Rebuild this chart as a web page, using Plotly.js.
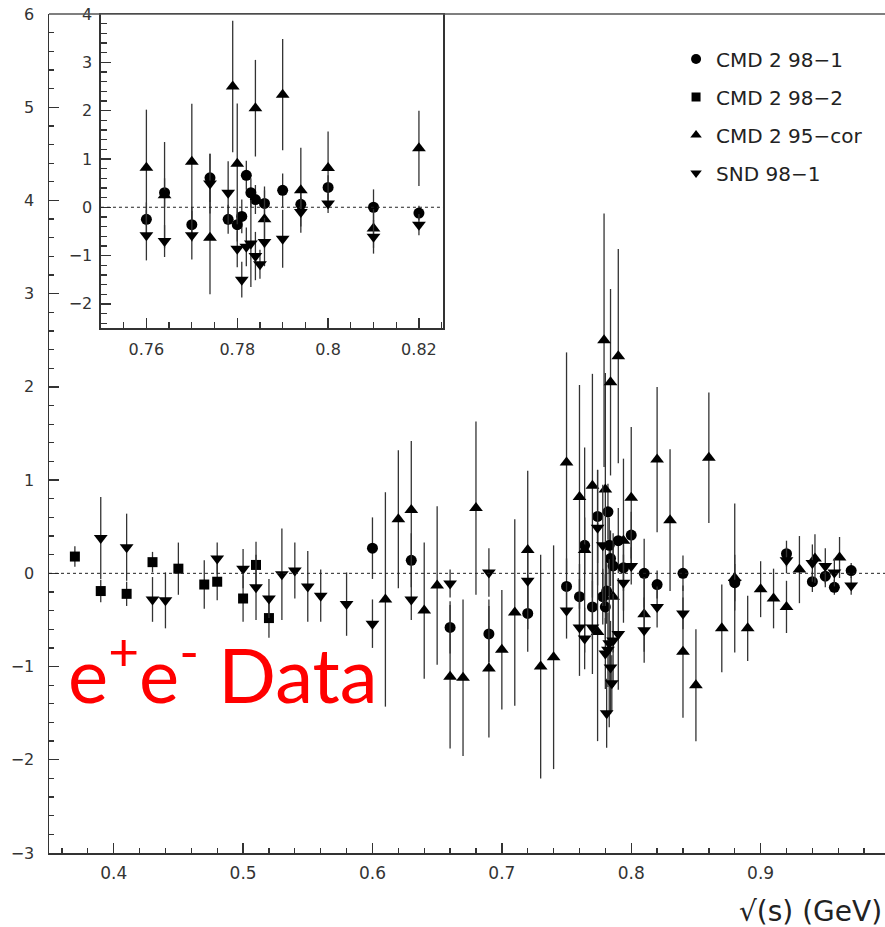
<!DOCTYPE html>
<html><head><meta charset="utf-8">
<script src="https://cdn.plot.ly/plotly-3.0.1.min.js"></script>
<style>html,body{margin:0;padding:0;overflow:hidden;background:#fff}#chart{width:890px;height:927px}</style>
</head><body><div id="chart"></div>
<script>
// ---- data ----
const seriesNames = ['CMD 2 98\u22121', 'CMD 2 98\u22122', 'CMD 2 95\u2212cor', 'SND 98\u22121'];

const cmd981_x = [0.60, 0.63, 0.66, 0.69, 0.72, 0.75, 0.76, 0.764, 0.77, 0.774, 0.778, 0.78, 0.781, 0.782, 0.783, 0.784, 0.786, 0.79, 0.794, 0.80, 0.81, 0.82, 0.84, 0.88, 0.92, 0.94, 0.95, 0.957, 0.97];
const cmd981_y = [0.27, 0.14, -0.58, -0.65, -0.43, -0.14, -0.25, 0.30, -0.36, 0.61, -0.25, -0.36, -0.19, 0.66, 0.30, 0.16, 0.08, 0.35, 0.06, 0.41, 0.00, -0.12, 0.00, -0.10, 0.21, -0.09, -0.03, -0.15, 0.03];
const cmd981_e = [0.33, 0.29, 0.28, 0.30, 0.41, 0.30, 0.35, 0.30, 0.35, 0.50, 0.30, 0.35, 0.35, 0.30, 0.30, 0.30, 0.35, 0.35, 0.25, 0.25, 0.37, 0.15, 0.19, 0.20, 0.14, 0.11, 0.12, 0.08, 0.08];

const cmd982_x = [0.37, 0.39, 0.41, 0.43, 0.45, 0.47, 0.48, 0.50, 0.51, 0.52];
const cmd982_y = [0.18, -0.19, -0.22, 0.12, 0.05, -0.12, -0.09, -0.27, 0.09, -0.48];
const cmd982_e = [0.11, 0.12, 0.13, 0.11, 0.28, 0.26, 0.20, 0.25, 0.25, 0.21];

const cmd95_x = [0.61, 0.62, 0.63, 0.64, 0.65, 0.66, 0.67, 0.68, 0.69, 0.70, 0.71, 0.72, 0.73, 0.74, 0.75, 0.76, 0.764, 0.77, 0.774, 0.779, 0.78, 0.784, 0.786, 0.79, 0.794, 0.80, 0.81, 0.82, 0.83, 0.84, 0.85, 0.86, 0.87, 0.88, 0.89, 0.90, 0.91, 0.92, 0.93, 0.942, 0.961];
const cmd95_y = [-0.28, 0.58, 0.68, -0.40, -0.13, -1.11, -1.12, 0.70, -1.02, -0.82, -0.42, 0.25, -1.00, -0.90, 1.19, 0.82, 0.25, 0.94, -0.63, 2.50, 0.90, 2.05, -0.25, 2.33, 0.35, 0.81, -0.44, 1.22, 0.57, -0.84, -1.20, 1.24, -0.59, -0.05, -0.59, -0.17, -0.27, -0.36, 0.04, 0.16, 0.17];
const cmd95_e = [1.15, 0.74, 0.74, 0.73, 0.85, 0.77, 0.84, 0.93, 0.74, 0.64, 1.00, 0.85, 1.20, 1.20, 1.18, 1.20, 1.10, 1.20, 1.17, 1.36, 1.25, 1.00, 0.60, 1.15, 0.88, 0.76, 0.40, 0.78, 0.76, 0.71, 0.60, 0.70, 0.47, 0.80, 0.35, 0.30, 0.32, 0.28, 0.36, 0.26, 0.22];

const snd_x = [0.39, 0.41, 0.43, 0.44, 0.48, 0.50, 0.51, 0.52, 0.53, 0.54, 0.55, 0.56, 0.58, 0.60, 0.63, 0.66, 0.69, 0.72, 0.75, 0.76, 0.764, 0.77, 0.774, 0.778, 0.78, 0.781, 0.782, 0.783, 0.784, 0.785, 0.786, 0.79, 0.794, 0.80, 0.81, 0.82, 0.84, 0.88, 0.92, 0.94, 0.95, 0.957, 0.97];
const snd_y = [0.38, 0.28, -0.28, -0.29, 0.16, 0.05, -0.15, -0.27, -0.01, 0.03, -0.14, -0.24, -0.33, -0.54, -0.28, -0.11, 0.01, -0.08, -0.40, -0.58, -0.70, -0.58, 0.49, 0.30, -0.86, -1.50, -0.82, -0.75, -1.01, -1.18, -0.72, -0.65, -0.10, 0.08, -0.61, -0.36, -0.43, -0.10, 0.14, 0.11, 0.08, 0.01, -0.13];
const snd_e = [0.44, 0.36, 0.24, 0.30, 0.17, 0.21, 0.35, 0.21, 0.49, 0.30, 0.38, 0.28, 0.34, 0.26, 0.22, 0.15, 0.26, 0.30, 0.30, 0.52, 0.33, 0.50, 0.62, 0.65, 0.38, 0.37, 0.40, 0.90, 0.50, 0.30, 0.50, 0.60, 0.30, 0.20, 0.35, 0.22, 0.17, 0.30, 0.14, 0.20, 0.19, 0.15, 0.10];

const xTitle = '\u221A(s) (GeV)';
const bigLabel = 'e<sup>+</sup>e<sup>-</sup> Data';

// ---- styling ----
const symbols = ['circle', 'square', 'triangle-up', 'triangle-down'];
const sizes = [11, 10, 12, 12];
const legSizes = [10, 9, 10, 10];
const sets = [
  [cmd981_x, cmd981_y, cmd981_e],
  [cmd982_x, cmd982_y, cmd982_e],
  [cmd95_x, cmd95_y, cmd95_e],
  [snd_x, snd_y, snd_e]
];
const INSET_X = [0.75, 0.8253];

function insetFilter(xs, ys, es) {
  const o = {x: [], y: [], e: []};
  xs.forEach((v, i) => {
    if (v > INSET_X[0] + 0.002 && v < INSET_X[1]) { o.x.push(v); o.y.push(ys[i]); o.e.push(es[i]); }
  });
  return o;
}

const traces = [];
sets.forEach((s, k) => {
  traces.push({
    type: 'scatter', mode: 'markers', x: s[0], y: s[1], xaxis: 'x', yaxis: 'y',
    name: seriesNames[k], showlegend: false,
    marker: {symbol: symbols[k], size: sizes[k], color: '#000', line: {width: 0}},
    error_y: {type: 'data', array: s[2], visible: true, color: '#333', thickness: 1.3, width: 0}
  });
});
sets.forEach((s, k) => {
  const f = insetFilter(s[0], s[1], s[2]);
  traces.push({
    type: 'scatter', mode: 'markers', x: f.x, y: f.y, xaxis: 'x2', yaxis: 'y2',
    name: seriesNames[k], showlegend: false,
    marker: {symbol: symbols[k], size: sizes[k], color: '#000', line: {width: 0}},
    error_y: {type: 'data', array: f.e, visible: true, color: '#333', thickness: 1.3, width: 0}
  });
});
// legend entries
sets.forEach((s, k) => {
  traces.push({
    type: 'scatter', mode: 'markers', x: [null], y: [null], xaxis: 'x', yaxis: 'y',
    name: seriesNames[k], showlegend: true, legendgroup: 'g' + k,
    marker: {symbol: symbols[k], size: legSizes[k], color: '#000', line: {width: 0}}
  });
});

const tickFont = {family: 'DejaVu Sans', size: 16, color: '#333'};
const axCommon = {
  showline: true, linecolor: '#333', linewidth: 1.5, ticks: 'inside', ticklen: 10,
  tickwidth: 1.3, tickcolor: '#333', showgrid: false, zeroline: false,
  tickfont: tickFont, fixedrange: true
};

const layout = {
  width: 890, height: 927,
  margin: {l: 49, r: 0, t: 14, b: 74},
  paper_bgcolor: '#fff', plot_bgcolor: 'rgba(0,0,0,0)',
  showlegend: true,
  legend: {
    x: 0.7456, y: 0.9696, xanchor: 'left', yanchor: 'top',
    font: {family: 'DejaVu Sans', size: 20, color: '#222'},
    bgcolor: 'rgba(0,0,0,0)', traceorder: 'grouped', tracegroupgap: 9
  },
  xaxis: Object.assign({}, axCommon, {
    range: [0.35, 1.0], domain: [0, 1], anchor: 'y', dtick: 0.1, tick0: 0,
    tickfont: {family: 'DejaVu Sans', size: 17, color: '#333'}, ticklabelstandoff: 4,
    minor: {dtick: 0.02, tick0: 0, ticks: 'inside', ticklen: 5, tickwidth: 1.3, tickcolor: '#333'}
  }),
  yaxis: Object.assign({}, axCommon, {
    range: [-3, 6], domain: [0, 1], anchor: 'x', dtick: 1, tick0: 0, ticklabelstandoff: 10,
    minor: {dtick: 0.2, tick0: 0, ticks: 'inside', ticklen: 5, tickwidth: 1.3, tickcolor: '#333'}
  }),
  xaxis2: Object.assign({}, axCommon, {
    range: INSET_X, domain: [0.0618, 0.4685], anchor: 'y2', dtick: 0.02, tick0: 0, mirror: true,
    ticklabelstandoff: 6,
    minor: {dtick: 0.005, tick0: 0, ticks: 'inside', ticklen: 6, tickwidth: 1.3, tickcolor: '#333'}
  }),
  yaxis2: Object.assign({}, axCommon, {
    range: [-2.5, 4], domain: [0.6257, 1], anchor: 'x2', dtick: 1, tick0: 0, mirror: true,
    ticklabelstandoff: 4,
    minor: {dtick: 0.2, tick0: 0, ticks: 'inside', ticklen: 6, tickwidth: 1.3, tickcolor: '#333'}
  }),
  shapes: [
    {type: 'line', xref: 'paper', yref: 'paper', x0: 0, x1: 1, y0: 1, y1: 1, line: {color: '#555', width: 1.6}},
    {type: 'line', xref: 'x', yref: 'y', x0: 0.35, x1: 1.0, y0: 0, y1: 0, line: {color: '#222', width: 1, dash: 'dot'}},
    {type: 'line', xref: 'x2', yref: 'y2', x0: INSET_X[0], x1: INSET_X[1], y0: 0, y1: 0, line: {color: '#222', width: 1, dash: 'dot'}}
  ],
  annotations: [
    {text: xTitle, xref: 'paper', yref: 'paper', x: 0.9929, y: -0.0703, xanchor: 'right', yanchor: 'middle',
     showarrow: false, font: {family: 'DejaVu Sans', size: 28, color: '#222'}},
    {text: bigLabel, xref: 'paper', yref: 'paper', x: 0.0197, y: 0.2205, xanchor: 'left', yanchor: 'middle',
     showarrow: false, font: {family: 'Lato', size: 76, color: '#ff0000'}}
  ]
};

Plotly.newPlot('chart', traces, layout, {staticPlot: true, displayModeBar: false});
</script>
</body></html>
